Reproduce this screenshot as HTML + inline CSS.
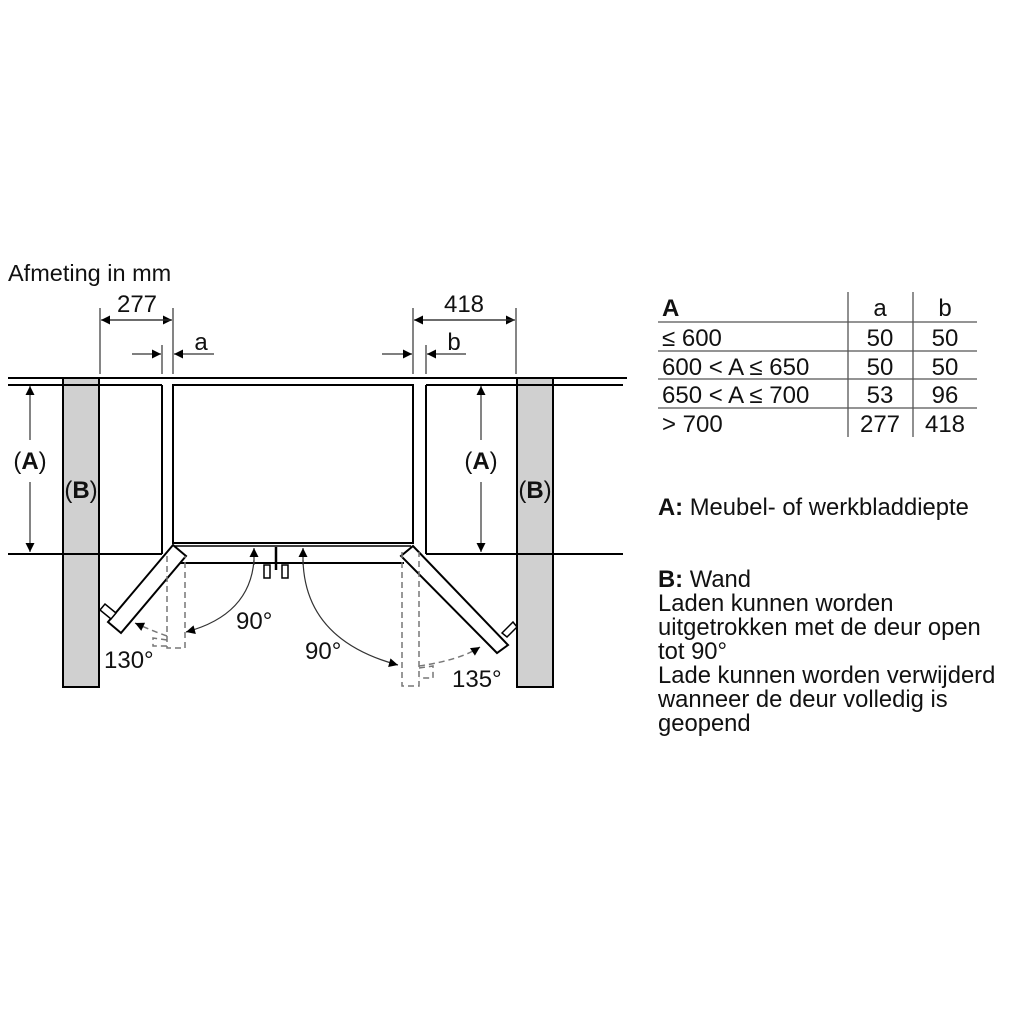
<!DOCTYPE html>
<html><head><meta charset="utf-8"><style>
html,body{margin:0;padding:0;background:#fff}
svg{display:block}
text{font-family:"Liberation Sans",sans-serif;fill:#111}
</style></head><body>
<svg width="1024" height="1024" viewBox="0 0 1024 1024" xmlns="http://www.w3.org/2000/svg">
<defs>
<marker id="ah" viewBox="0 0 10 10" refX="10" refY="5" markerWidth="12" markerHeight="9" markerUnits="userSpaceOnUse" orient="auto"><path d="M0,0 L10,5 L0,10 z" fill="#000"/></marker>
</defs>
<text x="8" y="281" font-size="23.5">Afmeting in mm</text>

<rect x="63" y="378" width="36" height="309" fill="#d0d0d0" stroke="#000" stroke-width="2"/>
<rect x="517" y="378" width="36" height="309" fill="#d0d0d0" stroke="#000" stroke-width="2"/>

<g stroke="#000" stroke-width="2" fill="none">
<line x1="8" y1="378" x2="627" y2="378"/>
<line x1="8" y1="385" x2="162" y2="385"/>
<line x1="162" y1="385" x2="162" y2="554"/>
<line x1="426" y1="385" x2="623" y2="385"/>
<line x1="426" y1="385" x2="426" y2="554"/>
<line x1="8" y1="554" x2="162" y2="554"/>
<line x1="426" y1="554" x2="623" y2="554"/>
<rect x="173" y="385" width="240" height="158" fill="#fff"/>
<line x1="175" y1="546" x2="411" y2="546" stroke-width="1.5"/>
<line x1="180" y1="563" x2="404" y2="563"/>
<line x1="276" y1="547" x2="276" y2="570" stroke-width="2.5"/>
<rect x="264" y="565" width="6" height="13" fill="#fff" stroke-width="1.5"/>
<rect x="282" y="565" width="6" height="13" fill="#fff" stroke-width="1.5"/>
<polygon points="173,545 186,556 121,633 108,622" fill="#fff"/>
<polygon points="100,610 105,604 116,613 111,619" fill="#fff" stroke-width="1.5"/>
<polygon points="413,546 401,556 497,653 508,645" fill="#fff"/>
<polygon points="502,633 513,622 517,627 507,637" fill="#fff" stroke-width="1.5"/>
</g>

<g stroke="#777" stroke-width="1.5" fill="none" stroke-dasharray="6,4">
<path d="M167,556 V648 H185 V556"/>
<path d="M167,640 L153,638 V646 L167,646"/>
<path d="M402,552 V686 H419 V552"/>
<path d="M419,668 L433,666 V678 L419,678"/>
<path d="M167,636 Q150,630 135,623" marker-end="url(#ah)"/>
<path d="M419,666 Q460,660 480,647" marker-end="url(#ah)"/>
</g>

<g stroke="#333" stroke-width="1.2" fill="none">
<path d="M254,560 Q250,615 186,632" marker-end="url(#ah)"/>
<line x1="254" y1="565" x2="254" y2="548" marker-end="url(#ah)"/>
<path d="M303,560 Q305,640 398,665" marker-end="url(#ah)"/>
<line x1="303" y1="565" x2="303" y2="548" marker-end="url(#ah)"/>
</g>
<text x="236" y="629" font-size="24">90°</text>
<text x="305" y="659" font-size="24">90°</text>
<text x="104" y="668" font-size="24">130°</text>
<text x="452" y="687" font-size="24">135°</text>

<g stroke="#333" stroke-width="1.2" fill="none">
<line x1="100" y1="308" x2="100" y2="374"/>
<line x1="173" y1="308" x2="173" y2="374"/>
<line x1="162" y1="345" x2="162" y2="374"/>
<line x1="102" y1="320" x2="172" y2="320" marker-end="url(#ah)"/>
<line x1="170" y1="320" x2="101" y2="320" marker-end="url(#ah)"/>
<line x1="132" y1="354" x2="161" y2="354" marker-end="url(#ah)"/>
<line x1="214" y1="354" x2="174" y2="354" marker-end="url(#ah)"/>
<line x1="413" y1="308" x2="413" y2="374"/>
<line x1="516" y1="308" x2="516" y2="374"/>
<line x1="426" y1="345" x2="426" y2="374"/>
<line x1="415" y1="320" x2="515" y2="320" marker-end="url(#ah)"/>
<line x1="514" y1="320" x2="414" y2="320" marker-end="url(#ah)"/>
<line x1="382" y1="354" x2="412" y2="354" marker-end="url(#ah)"/>
<line x1="466" y1="354" x2="427" y2="354" marker-end="url(#ah)"/>
<line x1="30" y1="440" x2="30" y2="386" marker-end="url(#ah)"/>
<line x1="30" y1="482" x2="30" y2="552" marker-end="url(#ah)"/>
<line x1="481" y1="440" x2="481" y2="386" marker-end="url(#ah)"/>
<line x1="481" y1="482" x2="481" y2="552" marker-end="url(#ah)"/>
</g>
<text x="137" y="312" font-size="24" text-anchor="middle">277</text>
<text x="201" y="350" font-size="24" text-anchor="middle">a</text>
<text x="464" y="312" font-size="24" text-anchor="middle">418</text>
<text x="454" y="350" font-size="24" text-anchor="middle">b</text>
<text x="30" y="469" font-size="24" text-anchor="middle">(<tspan font-weight="bold">A</tspan>)</text>
<text x="481" y="469" font-size="24" text-anchor="middle">(<tspan font-weight="bold">A</tspan>)</text>
<text x="81" y="498" font-size="24" text-anchor="middle">(<tspan font-weight="bold">B</tspan>)</text>
<text x="535" y="498" font-size="24" text-anchor="middle">(<tspan font-weight="bold">B</tspan>)</text>

<g stroke="#555" stroke-width="1.3">
<line x1="658" y1="322" x2="977" y2="322"/>
<line x1="658" y1="351" x2="977" y2="351"/>
<line x1="658" y1="379" x2="977" y2="379"/>
<line x1="658" y1="408" x2="977" y2="408"/>
<line x1="848" y1="292" x2="848" y2="437"/>
<line x1="913" y1="292" x2="913" y2="437"/>
</g>
<g font-size="24">
<text x="662" y="316" font-weight="bold">A</text>
<text x="880" y="316" text-anchor="middle">a</text>
<text x="945" y="316" text-anchor="middle">b</text>
<text x="662" y="346">≤ 600</text>
<text x="880" y="346" text-anchor="middle">50</text>
<text x="945" y="346" text-anchor="middle">50</text>
<text x="662" y="375">600 &lt; A ≤ 650</text>
<text x="880" y="375" text-anchor="middle">50</text>
<text x="945" y="375" text-anchor="middle">50</text>
<text x="662" y="403">650 &lt; A ≤ 700</text>
<text x="880" y="403" text-anchor="middle">53</text>
<text x="945" y="403" text-anchor="middle">96</text>
<text x="662" y="432">&gt; 700</text>
<text x="880" y="432" text-anchor="middle">277</text>
<text x="945" y="432" text-anchor="middle">418</text>
</g>
<g font-size="23.8">
<text x="658" y="515"><tspan font-weight="bold">A:</tspan> Meubel- of werkbladdiepte</text>
<text x="658" y="587"><tspan font-weight="bold">B:</tspan> Wand</text>
<text x="658" y="611">Laden kunnen worden</text>
<text x="658" y="635">uitgetrokken met de deur open</text>
<text x="658" y="659">tot 90°</text>
<text x="658" y="683">Lade kunnen worden verwijderd</text>
<text x="658" y="707">wanneer de deur volledig is</text>
<text x="658" y="731">geopend</text>
</g>
</svg>
</body></html>
